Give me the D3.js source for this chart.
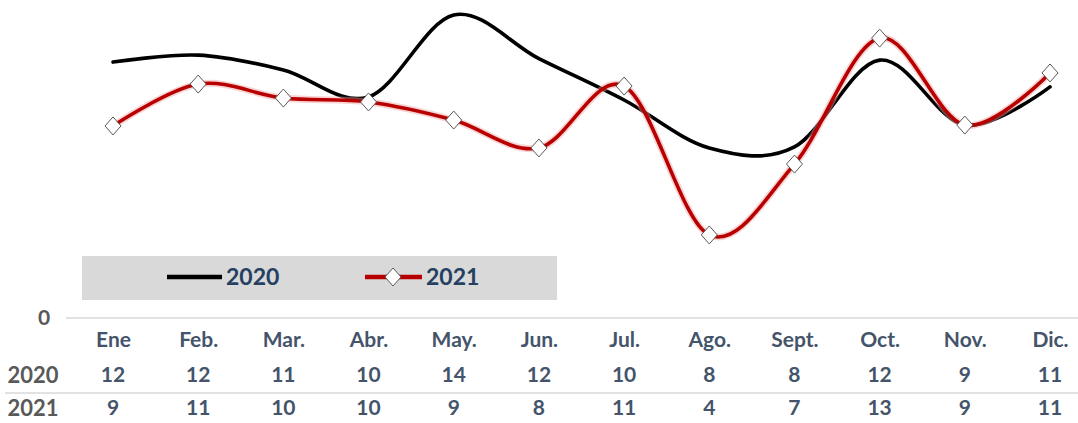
<!DOCTYPE html>
<html><head><meta charset="utf-8">
<script src="https://cdn.jsdelivr.net/npm/d3@7"></script>
<style>
body{margin:0;background:#fff;overflow:hidden}
svg{display:block}
text{font-family:Lato,"Open Sans",sans-serif;font-weight:bold}
</style>
</head><body><svg id="c" width="1078" height="423"></svg>
<script>
const months = ["Ene","Feb.","Mar.","Abr.","May.","Jun.","Jul.","Ago.","Sept.","Oct.","Nov.","Dic."];
const values2020 = [11.74,12.06,11.38,10.14,13.9,11.9,10.0,7.8,7.85,11.83,8.85,10.6];
const values2021 = [8.81,10.73,10.09,9.91,9.08,7.8,10.64,3.81,7.06,12.84,8.85,11.24];
const seriesNames = ["2020","2021"];
const yTicks = [0];

const svg = d3.select("#c");
const x = d3.scalePoint(months, [113, 1050]);
const y = d3.scaleLinear([0, 16], [318, 318 - 16 * 21.8]);
const fmt = d3.format(".0f");
const tableColor = "#44546a";
const headColor = "#595959";

// baseline / y axis
svg.append("line").attr("x1", 66).attr("x2", 1078).attr("y1", y(0)).attr("y2", y(0))
  .attr("stroke", "#d9d9d9").attr("stroke-width", 1.5);
const yAxis = svg.append("g").attr("transform", "translate(56,0)")
  .call(d3.axisLeft(y).tickValues(yTicks).tickSize(0).tickPadding(0).tickFormat(d3.format("d")));
yAxis.select(".domain").remove();
yAxis.selectAll("text").attr("font-size", 21).attr("fill", headColor)
  .attr("text-anchor", "middle").attr("dx", -12).attr("dy", "0.32em")
  .style("font-family", "Lato").style("font-weight", "bold");

// legend box
svg.append("rect").attr("x", 82).attr("y", 256).attr("width", 475).attr("height", 44).attr("fill", "#d9d9d9");

const line = d3.line().x((d, i) => x(months[i])).y(d => y(d)).curve(d3.curveCatmullRom.alpha(0));

// 2020 line
svg.append("path").datum(values2020).attr("d", line).attr("fill", "none")
  .attr("stroke", "#000").attr("stroke-width", 3.6).attr("stroke-linecap", "round");

// 2021 line with glow
svg.append("path").datum(values2021).attr("d", line).attr("fill", "none")
  .attr("stroke", "#f2a0a0").attr("stroke-opacity", 0.45).attr("stroke-width", 7);
svg.append("path").datum(values2021).attr("d", line).attr("fill", "none")
  .attr("stroke", "#b80000").attr("stroke-width", 3.6);

function diamond(cx, cy, w, h) {
  const p = d3.path();
  p.moveTo(cx, cy - h); p.lineTo(cx + w, cy); p.lineTo(cx, cy + h); p.lineTo(cx - w, cy); p.closePath();
  return p.toString();
}
svg.append("g").selectAll("path").data(values2021).join("path")
  .attr("d", (d, i) => diamond(x(months[i]), y(d), 8, 9))
  .attr("fill", "#fff").attr("stroke", "#595959").attr("stroke-width", 1);

// legend items
const lg = svg.append("g");
lg.append("line").attr("x1", 167).attr("x2", 222).attr("y1", 277).attr("y2", 277)
  .attr("stroke", "#000").attr("stroke-width", 4.5);
lg.append("text").attr("x", 226).attr("y", 277).attr("dy", "0.36em").attr("font-size", 23)
  .attr("fill", "#254061").text(seriesNames[0]);
lg.append("line").attr("x1", 365).attr("x2", 422).attr("y1", 277).attr("y2", 277)
  .attr("stroke", "#b80000").attr("stroke-width", 4.5);
lg.append("path").attr("d", diamond(393, 277, 8, 9)).attr("fill", "#fff").attr("stroke", "#595959");
lg.append("text").attr("x", 426).attr("y", 277).attr("dy", "0.36em").attr("font-size", 23)
  .attr("fill", "#254061").text(seriesNames[1]);

// data table
const mAxis = svg.append("g").attr("transform", "translate(0,340)")
  .call(d3.axisBottom(x).tickSize(0).tickPadding(0));
mAxis.select(".domain").remove();
mAxis.selectAll("text").attr("font-size", 21).attr("fill", tableColor).attr("dy", "0.35em")
  .style("font-family", "Lato").style("font-weight", "bold");

svg.append("line").attr("x1", 5).attr("x2", 1078).attr("y1", 393).attr("y2", 393)
  .attr("stroke", "#d9d9d9").attr("stroke-width", 1.5);

const rows = [[seriesNames[0], values2020, 375], [seriesNames[1], values2021, 408]];
rows.forEach(([name, vals, ry]) => {
  svg.append("text").attr("x", 33).attr("y", ry).attr("dy", "0.35em").attr("text-anchor", "middle")
    .attr("font-size", 22).attr("fill", headColor).text(name);
  svg.append("g").selectAll("text").data(vals).join("text")
    .attr("x", (d, i) => x(months[i])).attr("y", ry).attr("dy", "0.35em").attr("text-anchor", "middle")
    .attr("font-size", 21).attr("fill", tableColor).text(d => fmt(d));
});
</script>
</body></html>
